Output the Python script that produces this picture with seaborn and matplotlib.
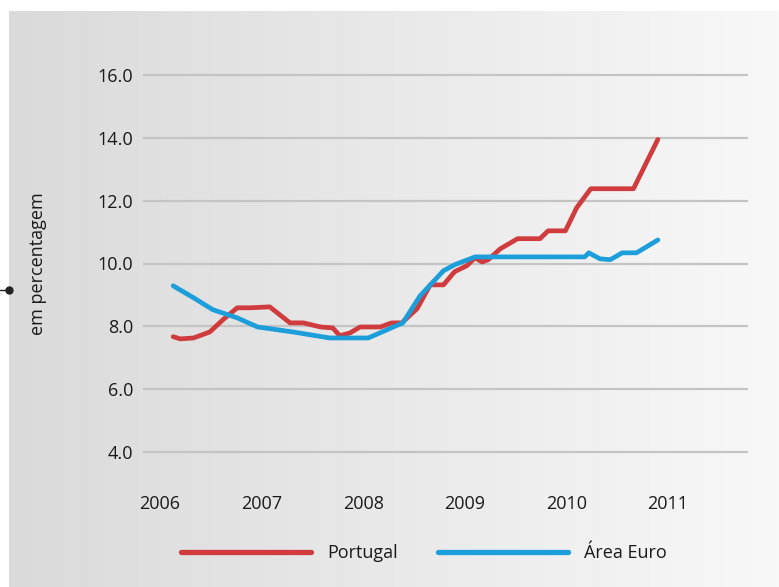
import numpy as np
import pandas as pd
import seaborn as sns
import matplotlib.pyplot as plt
from matplotlib.lines import Line2D

# values (fractional year, %)
pt_year = [2006.13, 2006.20, 2006.33, 2006.49, 2006.62, 2006.76, 2006.89, 2007.08,
           2007.28, 2007.41, 2007.58, 2007.70, 2007.77, 2007.87, 2007.97, 2008.17,
           2008.28, 2008.38, 2008.53, 2008.66, 2008.79, 2008.90, 2009.02, 2009.10,
           2009.17, 2009.23, 2009.35, 2009.52, 2009.74, 2009.82, 2009.99, 2010.10,
           2010.24, 2010.66, 2010.90]
pt_value = [7.67, 7.60, 7.63, 7.82, 8.21, 8.59, 8.59, 8.62,
            8.11, 8.11, 7.98, 7.95, 7.70, 7.79, 7.98, 7.98,
            8.11, 8.11, 8.56, 9.32, 9.32, 9.74, 9.93, 10.18,
            10.05, 10.12, 10.47, 10.79, 10.79, 11.04, 11.04, 11.77,
            12.38, 12.38, 13.95]

ea_year = [2006.13, 2006.33, 2006.52, 2006.76, 2006.96, 2007.31, 2007.67, 2008.05,
           2008.39, 2008.56, 2008.79, 2008.90, 2009.10, 2010.18, 2010.22, 2010.33,
           2010.43, 2010.55, 2010.69, 2010.90]
ea_value = [9.29, 8.91, 8.53, 8.27, 7.98, 7.82, 7.63, 7.63,
            8.11, 8.97, 9.77, 9.96, 10.21, 10.21, 10.34, 10.15,
            10.12, 10.34, 10.34, 10.75]

years = [2006, 2007, 2008, 2009, 2010, 2011]
y_ticks = [4, 6, 8, 10, 12, 14, 16]

df = pd.concat([
    pd.DataFrame({"ano": pt_year, "valor": pt_value, "serie": "Portugal"}),
    pd.DataFrame({"ano": ea_year, "valor": ea_value, "serie": "Área Euro"}),
])

sns.set_theme(style="white")
plt.rcParams["font.family"] = ["Open Sans", "DejaVu Sans"]

W, H = 779, 587
fig = plt.figure(figsize=(W / 100, H / 100), dpi=100)
fig.patch.set_facecolor("white")

# grey gradient panel behind the chart
bg = fig.add_axes([9 / W, 0, 1 - 9 / W, 1 - 11 / H], zorder=0)
grad = np.linspace(0, 1, 256).reshape(1, -1)
bg.imshow(grad, aspect="auto", cmap=sns.blend_palette(["#dadada", "#e9e9e9", "#f8f8f8"], as_cmap=True),
          extent=[0, 1, 0, 1])
bg.axis("off")

# little connector dot on the left edge
fig.add_artist(Line2D([0, 9 / W], [1 - 290 / H] * 2, color="#222222", lw=1))
fig.add_artist(Line2D([9 / W], [1 - 290 / H], marker="o", ms=5, color="#222222"))

ax = fig.add_axes([143 / W, 1 - 467.7 / H, 605 / W, 408.4 / H], zorder=1)
ax.set_facecolor("none")

sns.lineplot(data=df, x="ano", y="valor", hue="serie", sort=False,
             palette={"Portugal": "#d03b3d", "Área Euro": "#1c9edb"},
             linewidth=3.4, ax=ax, legend=False)

ax.set_xlim(2005.833, 2011.787)
ax.set_ylim(3.5, 16.5)
ax.set_yticks(y_ticks)
ax.set_yticklabels([f"{v:.1f}" for v in y_ticks])
ax.set_xticks(years)
ax.set_xticklabels([str(y) for y in years])
ax.tick_params(axis="y", length=0, pad=7, labelsize=13, labelcolor="#1a1a1a")
ax.tick_params(axis="x", length=0, pad=20, labelsize=13, labelcolor="#1a1a1a")
ax.yaxis.grid(True, color="#c4c4c4", linewidth=1.6)
ax.xaxis.grid(False)
for s in ax.spines.values():
    s.set_visible(False)

ax.set_xlabel("")
ax.set_ylabel("em percentagem", fontsize=13, color="#1a1a1a")
ax.yaxis.set_label_coords(-0.158, 0.5)

handles = [Line2D([], [], color="#d03b3d", lw=3.8), Line2D([], [], color="#1c9edb", lw=3.8)]
fig.legend(handles, ["Portugal", "Área Euro"], loc="center", bbox_to_anchor=(424 / W, 1 - 553 / H),
           ncol=2, frameon=False, fontsize=13, handlelength=7.2, handletextpad=0.9,
           columnspacing=2.2, labelcolor="#1a1a1a")

fig.savefig("out.png", dpi=100)
